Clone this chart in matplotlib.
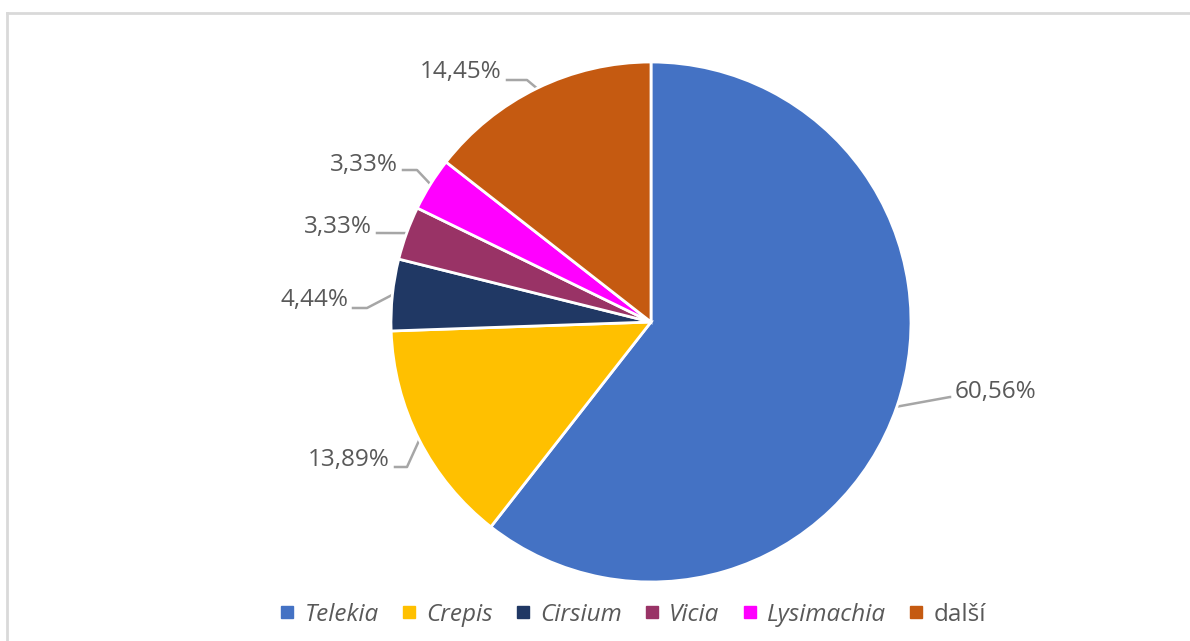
import numpy as np
import matplotlib.pyplot as plt
from matplotlib.lines import Line2D

# data
names = ["Telekia", "Crepis", "Cirsium", "Vicia", "Lysimachia", "další"]
shares = [60.56, 13.89, 4.44, 3.33, 3.33, 14.45]
italic = [True, True, True, True, True, False]
colors = ["#4472C4", "#FFC000", "#203864", "#993366", "#FF00FF", "#C55A11"]

# label layout in pixels (text anchor x, y, alignment) and leader elbow points
label_px = [(955, 392, "left"), (390, 460, "right"), (348, 300, "right"),
            (372, 227, "right"), (398, 165, "right"), (502, 72, "right")]
elbow_px = [(950, 397), (407, 467), (367, 308), (378, 233), (417, 170), (527, 80)]

W, H = 1190, 641
cx, cy, r = 651, 322, 260

plt.rcParams['font.family'] = ['Open Sans', 'DejaVu Sans']

fig = plt.figure(figsize=(W / 100, H / 100), dpi=100)
ax = fig.add_axes([(cx - r) / W, (H - cy - r) / H, 2 * r / W, 2 * r / H])

wedges, _ = ax.pie(shares, colors=colors, startangle=90, counterclock=False,
                   radius=1, wedgeprops=dict(edgecolor="white", linewidth=2))
ax.set_xlim(-1, 1)
ax.set_ylim(-1, 1)
ax.set_aspect("equal")
ax.axis("off")


def to_data(px, py):
    return (px - cx) / r, (cy - py) / r


for w, val, (lx, ly, ha), (ex, ey) in zip(wedges, shares, label_px, elbow_px):
    mid = np.radians((w.theta1 + w.theta2) / 2)
    edge = (np.cos(mid), np.sin(mid))
    tx, ty = to_data(lx, ly)
    bx, by = to_data(ex, ey)
    gap = 5 / r if ha == "left" else -5 / r
    ax.plot([edge[0], bx, tx - gap], [edge[1], by, by], color="#A6A6A6",
            lw=1.8, clip_on=False, zorder=0)
    txt = f"{val:.2f}%".replace(".", ",")
    ax.text(tx, ty, txt, ha=ha, va="center", fontsize=17.5, color="#595959")

handles = [Line2D([0], [0], marker="s", linestyle="", markersize=8,
                  markerfacecolor=c, markeredgecolor=c) for c in colors]
leg = fig.legend(handles, names, loc="center", bbox_to_anchor=(633 / W, 1 - 615 / H),
                 ncol=6, frameon=False, fontsize=17.5, handletextpad=0.4,
                 columnspacing=0.95, handlelength=0.6)
for t, it in zip(leg.get_texts(), italic):
    t.set_color("#595959")
    if it:
        t.set_fontstyle("italic")

# thin frame lines along the top and left
fig.add_artist(Line2D([7 / W, 7 / W], [0, 1 - 13 / H], color="#D9D9D9", lw=2))
fig.add_artist(Line2D([7 / W, 1], [1 - 13 / H, 1 - 13 / H], color="#D9D9D9", lw=2))

fig.savefig("out.png", dpi=100, facecolor="white")
